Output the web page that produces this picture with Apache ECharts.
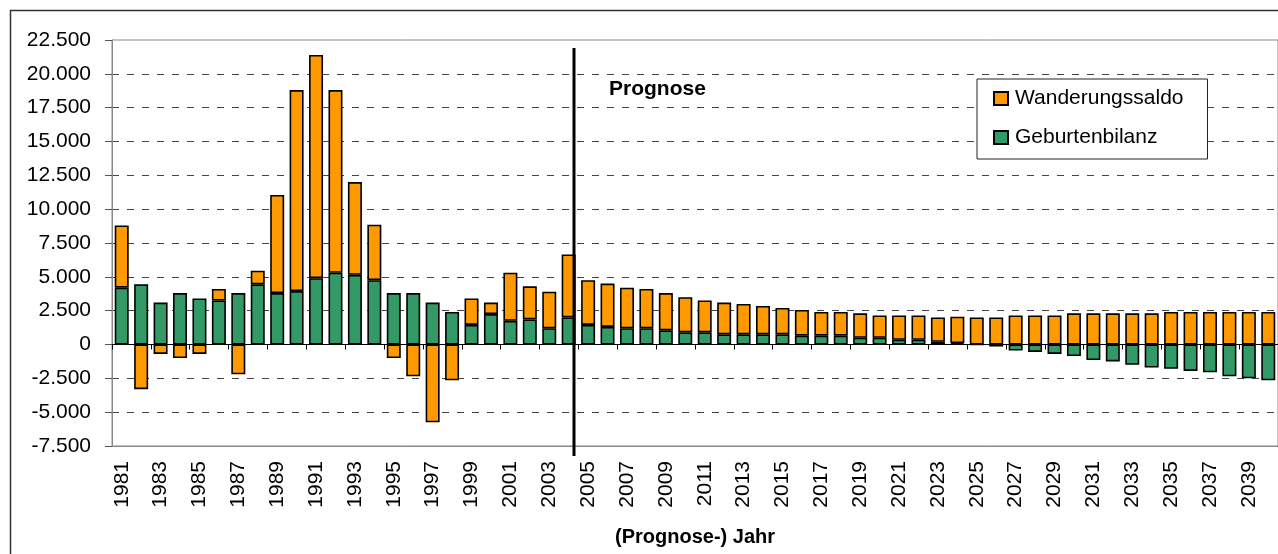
<!DOCTYPE html>
<html>
<head>
<meta charset="utf-8">
<script src="https://cdn.jsdelivr.net/npm/echarts@6/dist/echarts.min.js"></script>
<style>
  html, body { margin: 0; padding: 0; background: #fff; }
  #chart { width: 1278px; height: 554px; }
</style>
</head>
<body>
<div id="chart"></div>
<script>
const jahre = [
  '1981','1982','1983','1984','1985','1986','1987','1988','1989','1990',
  '1991','1992','1993','1994','1995','1996','1997','1998','1999','2000',
  '2001','2002','2003','2004','2005','2006','2007','2008','2009','2010',
  '2011','2012','2013','2014','2015','2016','2017','2018','2019','2020',
  '2021','2022','2023','2024','2025','2026','2027','2028','2029','2030',
  '2031','2032','2033','2034','2035','2036','2037','2038','2039','2040'
];
const geburtenbilanz = [
  4200, 4450, 3100, 3800, 3400, 3250, 3800, 4450, 3800, 3950,
  4900, 5300, 5150, 4750, 3800, 3800, 3100, 2400, 1450, 2250,
  1750, 1850, 1200, 2000, 1450, 1300, 1200, 1200, 1050, 900,
  900, 750, 750, 750, 750, 650, 650, 650, 500, 500,
  350, 350, 200, 100, 0, -150, -450, -550, -700, -850,
  -1150, -1250, -1500, -1700, -1800, -1950, -2050, -2350, -2500, -2650
];
const wanderungssaldo = [
  4600, -3300, -700, -1000, -700, 850, -2200, 1000, 7250, 14850,
  16500, 13500, 6850, 4100, -1000, -2350, -5750, -2650, 1950, 850,
  3550, 2450, 2700, 4650, 3300, 3200, 3000, 2900, 2750, 2600,
  2350, 2350, 2250, 2100, 1950, 1900, 1750, 1750, 1800, 1650,
  1800, 1800, 1800, 1950, 2000, 2000, 2150, 2150, 2150, 2300,
  2300, 2300, 2300, 2300, 2400, 2400, 2400, 2400, 2400, 2400
];
const yMin = -7500, yMax = 22500, yStep = 2500;

const font = "'Liberation Sans', Arial, sans-serif";

function fmt(v) {
  const s = String(Math.abs(v)).replace(/\B(?=(\d{3})+(?!\d))/g, '.');
  return (v < 0 ? '-' : '') + s;
}

const chart = echarts.init(document.getElementById('chart'));
chart.setOption({
  animation: false,
  backgroundColor: '#fff',
  textStyle: { fontFamily: font },
  grid: { left: 112, top: 40, right: -3, bottom: 108, show: true, borderColor: '#888', borderWidth: 1 },
  legend: {
    data: ['Wanderungssaldo', 'Geburtenbilanz'],
    orient: 'vertical',
    left: 977, top: 79,
    padding: [9, 24, 11, 16],
    icon: 'rect',
    itemWidth: 14, itemHeight: 13,
    itemGap: 18,
    borderColor: '#222', borderWidth: 1,
    backgroundColor: '#fff',
    textStyle: { fontSize: 21, color: '#000', fontFamily: font, lineHeight: 20, padding: [0, 0, 0, 2] }
  },
  xAxis: [
    {
      type: 'category',
      data: jahre,
      position: 'bottom',
      axisLine: { onZero: false, lineStyle: { color: '#888' } },
      axisTick: { show: false },
      axisLabel: { interval: 1, rotate: 90, fontSize: 21, color: '#000', margin: 15 },
      name: '(Prognose-) Jahr',
      nameLocation: 'middle',
      nameGap: 81,
      nameTextStyle: { fontSize: 20, fontWeight: 'bold', color: '#000' }
    },
    {
      type: 'category',
      data: jahre,
      position: 'bottom',
      axisLine: { onZero: true, lineStyle: { color: '#000', width: 1 } },
      axisTick: { show: true, length: 5, lineStyle: { color: '#000' } },
      axisLabel: { show: false }
    }
  ],
  yAxis: {
    type: 'value',
    min: yMin, max: yMax, interval: yStep,
    axisLine: { show: true, lineStyle: { color: '#888' } },
    axisTick: { show: true, length: 7, lineStyle: { color: '#555' } },
    axisLabel: { formatter: fmt, fontSize: 21, color: '#000', margin: 21 },
    splitLine: {
      show: true, showMinLine: false, showMaxLine: false,
      lineStyle: { type: [7, 8], color: '#444', width: 1 }
    }
  },
  series: [
    {
      name: 'Geburtenbilanz',
      type: 'bar',
      stack: 'gesamt',
      barWidth: 14,
      data: geburtenbilanz,
      itemStyle: { color: '#339966', borderColor: '#000', borderWidth: 1.6 }
    },
    {
      name: 'Wanderungssaldo',
      type: 'bar',
      stack: 'gesamt',
      barWidth: 14,
      data: wanderungssaldo,
      itemStyle: { color: '#FF9900', borderColor: '#000', borderWidth: 1.6 }
    }
  ],
  graphic: [
    {
      type: 'rect', z: -10,
      shape: { x: 10.5, y: 10.5, width: 1400, height: 700 },
      style: { fill: null, stroke: '#333', lineWidth: 1.5 }
    },
    {
      type: 'line', z: 100,
      shape: { x1: 574, y1: 48, x2: 574, y2: 456 },
      style: { stroke: '#000', lineWidth: 3 }
    },
    {
      type: 'text', z: 100,
      left: 609, top: 79,
      style: { text: 'Prognose', font: 'bold 21px ' + font, fill: '#000' }
    }
  ]
});
</script>
</body>
</html>
